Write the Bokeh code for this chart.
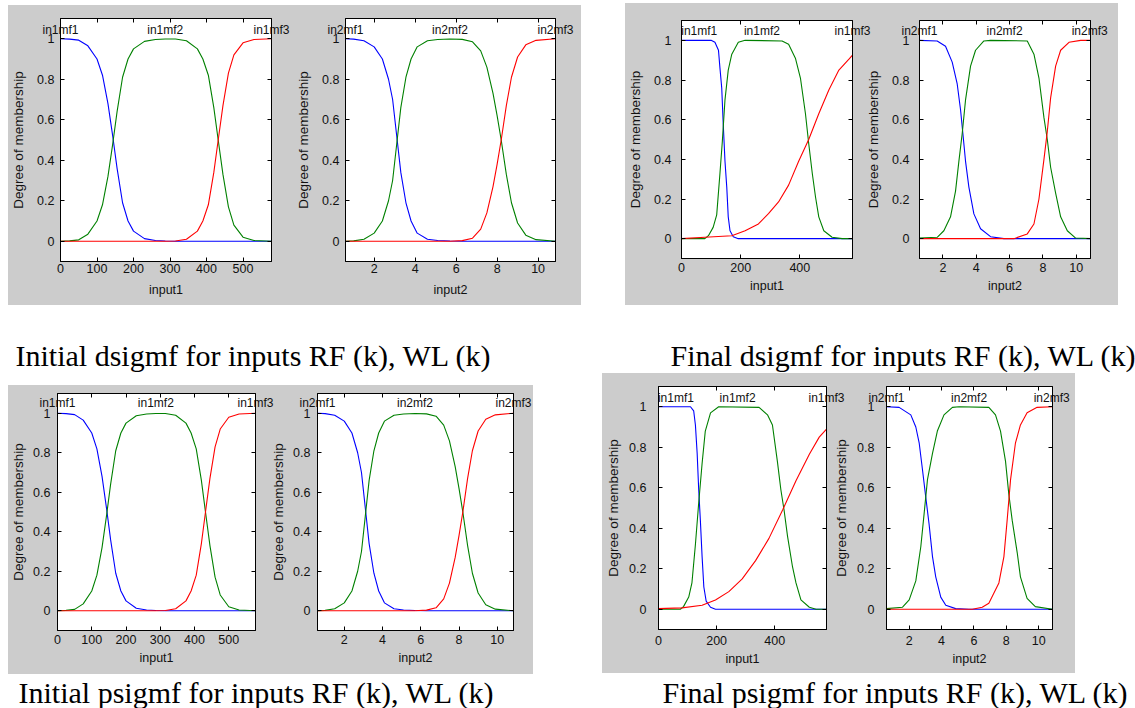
from bokeh.plotting import figure
from bokeh.models import Range1d, LinearAxis, FixedTicker, CustomJSTickFormatter, Label, Grid
from bokeh.layouts import row, column
from bokeh.embed import file_html
from bokeh.resources import INLINE

# ---------------- data ----------------
MF_NAMES_IN1 = ["in1mf1", "in1mf2", "in1mf3"]
MF_NAMES_IN2 = ["in2mf1", "in2mf2", "in2mf3"]
Y_TICKS = [0, 0.2, 0.4, 0.6, 0.8, 1]
IN1_TICKS_INIT = [0, 100, 200, 300, 400, 500]
IN1_TICKS_FINAL = [0, 200, 400]
IN2_TICKS = [2, 4, 6, 8, 10]
IN1_RANGE = [0, 578]
IN2_RANGE = [0.6, 10.85]

init_in1_x = [0, 25, 50, 75, 100, 115, 130, 143, 155, 170, 185, 200, 230, 260, 287,
              315, 345, 375, 390, 405, 420, 432, 445, 460, 475, 500, 530, 578]
init_in1_mf1 = [1.0, 0.998, 0.993, 0.965, 0.90, 0.82, 0.68, 0.52, 0.36, 0.19, 0.10, 0.05, 0.013, 0.004, 0.001,
                0, 0, 0, 0, 0, 0, 0, 0, 0, 0, 0, 0, 0]
init_in1_mf2 = [0.0, 0.002, 0.007, 0.035, 0.10, 0.18, 0.32, 0.48, 0.64, 0.81, 0.90, 0.95, 0.987, 0.996, 0.999,
                0.999, 0.99, 0.95, 0.90, 0.82, 0.66, 0.50, 0.33, 0.17, 0.08, 0.02, 0.004, 0.0]
init_in1_mf3 = [0, 0, 0, 0, 0, 0, 0, 0, 0, 0, 0, 0, 0, 0, 0,
                0.001, 0.01, 0.05, 0.10, 0.18, 0.34, 0.50, 0.67, 0.83, 0.92, 0.98, 0.996, 1.0]

init_in2_x = [0.6, 1.0, 1.5, 2.0, 2.4, 2.7, 2.9, 3.1, 3.3, 3.55, 3.8, 4.1, 4.6, 5.1, 5.7,
              6.3, 6.8, 7.2, 7.5, 7.8, 8.0, 8.2, 8.45, 8.7, 9.0, 9.4, 9.9, 10.85]
init_in2_mf1 = [1.0, 0.998, 0.99, 0.96, 0.90, 0.80, 0.70, 0.52, 0.34, 0.19, 0.10, 0.04, 0.01, 0.004, 0.001,
                0, 0, 0, 0, 0, 0, 0, 0, 0, 0, 0, 0, 0]
init_in2_mf2 = [0.0, 0.002, 0.01, 0.04, 0.10, 0.20, 0.30, 0.48, 0.66, 0.81, 0.90, 0.96, 0.99, 0.996, 0.999,
                0.997, 0.985, 0.94, 0.86, 0.73, 0.62, 0.50, 0.33, 0.19, 0.09, 0.03, 0.008, 0.0]
init_in2_mf3 = [0, 0, 0, 0, 0, 0, 0, 0, 0, 0, 0, 0, 0, 0, 0,
                0.003, 0.015, 0.06, 0.14, 0.27, 0.38, 0.50, 0.67, 0.81, 0.91, 0.97, 0.992, 1.0]

fd_in1_mf1_x = [0, 100, 113, 125, 130, 136, 141, 147, 153, 158, 164, 175, 192, 578]
fd_in1_mf1_y = [1.0, 1.0, 0.99, 0.95, 0.86, 0.76, 0.58, 0.39, 0.26, 0.11, 0.04, 0.01, 0.0, 0.0]
fd_in1_mf2_x = [0, 79, 91, 107, 119, 130, 138, 147, 158, 170, 192, 215, 340, 362, 385, 402, 419,
                430, 442, 453, 464, 481, 509, 543, 578]
fd_in1_mf2_y = [0, 0, 0.015, 0.057, 0.12, 0.33, 0.49, 0.70, 0.85, 0.93, 0.99, 1.0, 0.997, 0.98, 0.91,
                0.81, 0.63, 0.48, 0.33, 0.21, 0.11, 0.04, 0.007, 0.0, 0.0]
fd_in1_mf3_x = [0, 79, 170, 215, 260, 294, 328, 362, 396, 430, 464, 498, 532, 566, 578]
fd_in1_mf3_y = [0, 0.007, 0.015, 0.04, 0.074, 0.126, 0.185, 0.27, 0.39, 0.50, 0.63, 0.75, 0.85, 0.905, 0.925]

fd_in2_mf1_x = [0.6, 1.66, 2.16, 2.56, 2.86, 3.06, 3.2, 3.36, 3.56, 3.86, 4.26, 4.86, 5.66, 10.85]
fd_in2_mf1_y = [1, 0.997, 0.97, 0.89, 0.78, 0.65, 0.53, 0.39, 0.26, 0.125, 0.05, 0.01, 0.0, 0.0]
fd_in2_mf2_x = [0.6, 1.66, 2.06, 2.46, 2.76, 2.96, 3.16, 3.36, 3.66, 3.96, 4.46, 4.86, 7.06, 7.46,
                7.76, 8.06, 8.26, 8.46, 8.76, 9.06, 9.46, 9.96, 10.85]
fd_in2_mf2_y = [0.003, 0.007, 0.04, 0.11, 0.24, 0.39, 0.53, 0.70, 0.87, 0.95, 0.997, 1.0, 0.997, 0.93,
                0.81, 0.61, 0.50, 0.36, 0.23, 0.11, 0.04, 0.003, 0.0]
fd_in2_mf3_x = [0.6, 6.26, 7.06, 7.46, 7.76, 8.06, 8.26, 8.46, 8.76, 9.06, 9.56, 10.26, 10.85]
fd_in2_mf3_y = [0, 0, 0.024, 0.074, 0.20, 0.40, 0.54, 0.71, 0.87, 0.95, 0.99, 1.0, 1.0]

fp_in1_mf1_x = [0, 110, 121, 127, 133, 138, 144, 150, 156, 164, 179, 196, 578]
fp_in1_mf1_y = [1, 1, 0.98, 0.91, 0.77, 0.60, 0.44, 0.26, 0.11, 0.04, 0.01, 0.0, 0.0]
fp_in1_mf2_x = [0, 75, 86, 104, 115, 127, 138, 150, 161, 179, 207, 346, 375, 392, 409, 421, 432,
                444, 461, 473, 490, 519, 542, 578]
fp_in1_mf2_y = [0, 0, 0.013, 0.06, 0.13, 0.32, 0.52, 0.72, 0.88, 0.97, 1.0, 0.997, 0.96, 0.91, 0.73,
                0.59, 0.49, 0.36, 0.21, 0.13, 0.046, 0.01, 0.0, 0.0]
fp_in1_mf3_x = [0, 81, 150, 196, 242, 288, 334, 380, 427, 473, 519, 553, 578]
fp_in1_mf3_y = [0.003, 0.007, 0.02, 0.046, 0.087, 0.15, 0.24, 0.35, 0.49, 0.635, 0.765, 0.85, 0.89]

fp_in2_mf1_x = [0.6, 1.38, 2.1, 2.41, 2.62, 2.82, 3.03, 3.23, 3.44, 3.64, 3.95, 4.26, 4.87, 5.69, 10.85]
fp_in2_mf1_y = [1, 0.997, 0.96, 0.90, 0.82, 0.69, 0.55, 0.42, 0.26, 0.16, 0.06, 0.02, 0.003, 0.0, 0.0]
fp_in2_mf2_x = [0.6, 1.59, 2.0, 2.41, 2.72, 2.92, 3.13, 3.44, 3.74, 4.15, 4.67, 5.08, 6.92, 7.33,
                7.64, 7.95, 8.15, 8.36, 8.67, 8.87, 9.28, 9.79, 10.85]
fp_in2_mf2_y = [0.003, 0.01, 0.046, 0.14, 0.31, 0.47, 0.64, 0.77, 0.88, 0.96, 0.997, 1.0, 0.997, 0.96,
                0.88, 0.73, 0.57, 0.44, 0.28, 0.16, 0.054, 0.013, 0.0]
fp_in2_mf3_x = [0.6, 5.9, 6.51, 6.92, 7.54, 7.85, 8.05, 8.26, 8.56, 8.87, 9.28, 9.9, 10.85]
fp_in2_mf3_y = [0, 0, 0.01, 0.03, 0.13, 0.26, 0.44, 0.64, 0.82, 0.91, 0.97, 0.997, 1.0]

# positions of the membership-function names along x
init_in1_label_x = [0, 287, 578]
init_in2_label_x = [0.6, 5.7, 10.85]
final_in1_label_x = [60, 272, 578]
final_in2_label_x = [0.6, 5.7, 10.8]

CAPTIONS = ["Initial dsigmf for inputs RF (k), WL (k)", "Final dsigmf for inputs RF (k), WL (k)",
            "Initial psigmf for inputs RF (k), WL (k)", "Final psigmf for inputs RF (k), WL (k)"]

# ---------------- styling ----------------
GREY = "#cccccc"
COLORS = ["#0000ff", "#008000", "#ff0000"]
AX_FONT = "Liberation Sans"
CAP_FONT = "Liberation Serif"
FMT = "return String(Math.round(tick*10)/10)"
NAME_FMT = """
let best = 0, d = Infinity;
for (let i = 0; i < pos.length; i++) {
  const e = Math.abs(pos[i] - tick);
  if (e < d) { d = e; best = i; }
}
return names[best];
"""


def base_axis(ax):
    ax.axis_line_color = "black"
    ax.major_tick_line_color = "black"
    ax.major_tick_in = 4
    ax.major_tick_out = 0
    ax.minor_tick_in = 0
    ax.minor_tick_out = 0
    ax.major_label_text_color = "#111111"
    ax.major_label_text_font = AX_FONT
    ax.axis_label_text_font = AX_FONT
    ax.axis_label_text_color = "#111111"
    ax.axis_label_text_font_style = "normal"


def make_sub(xr, xticks, xlabel, curves, names, label_x, geom, sd, transparent=False):
    lb, fw, rb, tb, fh, bb = geom
    ytick_sd, ylab_sd, xtick_sd, xlab_sd, name_sd = sd
    p = figure(frame_width=fw, frame_height=fh,
               min_border_left=lb, min_border_right=rb, min_border_top=tb, min_border_bottom=bb,
               x_range=Range1d(*xr), y_range=Range1d(-0.1, 1.1),
               x_axis_location=None, y_axis_location=None,
               output_backend="svg", toolbar_location=None, tools="",
               background_fill_color="white", border_fill_color=GREY,
               border_fill_alpha=0.0 if transparent else 1.0,
               outline_line_color="black", outline_line_width=1)
    p.center = [r for r in p.center if not isinstance(r, Grid)]

    left = LinearAxis(ticker=FixedTicker(ticks=Y_TICKS), formatter=CustomJSTickFormatter(code=FMT),
                      axis_label="Degree of membership")
    base_axis(left)
    left.major_label_text_font_size = "12.5px"
    left.major_label_standoff = ytick_sd
    left.axis_label_standoff = ylab_sd
    left.axis_label_text_font_size = "13.5px"
    p.add_layout(left, "left")

    bottom = LinearAxis(ticker=FixedTicker(ticks=xticks), formatter=CustomJSTickFormatter(code=FMT),
                        axis_label=xlabel)
    base_axis(bottom)
    bottom.major_label_text_font_size = "12.5px"
    bottom.major_label_standoff = xtick_sd
    bottom.axis_label_standoff = xlab_sd
    bottom.axis_label_text_font_size = "12.5px"
    p.add_layout(bottom, "below")

    # inward tick marks on the top and right edges
    for loc, tk in (("above", xticks), ("right", Y_TICKS)):
        ax = LinearAxis(ticker=FixedTicker(ticks=tk), formatter=CustomJSTickFormatter(code="return ''"))
        base_axis(ax)
        ax.major_label_text_font_size = "0px"
        ax.major_label_standoff = 0
        p.add_layout(ax, loc)

    # membership-function names, written just under the top edge
    names_ax = LinearAxis(ticker=FixedTicker(ticks=label_x),
                          formatter=CustomJSTickFormatter(args=dict(pos=label_x, names=names), code=NAME_FMT))
    base_axis(names_ax)
    names_ax.axis_line_color = None
    names_ax.major_tick_line_color = None
    names_ax.major_label_text_font_size = "12px"
    names_ax.major_label_standoff = name_sd
    p.add_layout(names_ax, "above")

    for (cx, cy), col in zip(curves, COLORS):
        p.line(cx, cy, line_color=col, line_width=1.1)
    return p


def panel(figL, figR, overlap, margin):
    figR.margin = (0, 0, 0, -overlap)
    return row(figL, figR, spacing=0, margin=margin,
               styles={"background-color": GREY})


init_in1 = [(init_in1_x, init_in1_mf1), (init_in1_x, init_in1_mf2), (init_in1_x, init_in1_mf3)]
init_in2 = [(init_in2_x, init_in2_mf1), (init_in2_x, init_in2_mf2), (init_in2_x, init_in2_mf3)]
fd_in1 = [(fd_in1_mf1_x, fd_in1_mf1_y), (fd_in1_mf2_x, fd_in1_mf2_y), (fd_in1_mf3_x, fd_in1_mf3_y)]
fd_in2 = [(fd_in2_mf1_x, fd_in2_mf1_y), (fd_in2_mf2_x, fd_in2_mf2_y), (fd_in2_mf3_x, fd_in2_mf3_y)]
fp_in1 = [(fp_in1_mf1_x, fp_in1_mf1_y), (fp_in1_mf2_x, fp_in1_mf2_y), (fp_in1_mf3_x, fp_in1_mf3_y)]
fp_in2 = [(fp_in2_mf1_x, fp_in2_mf1_y), (fp_in2_mf2_x, fp_in2_mf2_y), (fp_in2_mf3_x, fp_in2_mf3_y)]

p1L = make_sub(IN1_RANGE, IN1_TICKS_INIT, "input1", init_in1, MF_NAMES_IN1, init_in1_label_x,
               (51, 211, 22, 13, 243, 44), (6, 8, 2, 7, -18))
p1R = make_sub(IN2_RANGE, IN2_TICKS, "input2", init_in2, MF_NAMES_IN2, init_in2_label_x,
               (45, 210, 26, 13, 243, 44), (6, 8, 2, 7, -18), transparent=True)
p2L = make_sub(IN1_RANGE, IN1_TICKS_FINAL, "input1", fd_in1, MF_NAMES_IN1, final_in1_label_x,
               (56, 171, 26, 17, 238, 47), (10, 8, 4, 4, -17))
p2R = make_sub(IN2_RANGE, IN2_TICKS, "input2", fd_in2, MF_NAMES_IN2, final_in2_label_x,
               (51, 171, 28, 17, 238, 47), (10, 8, 4, 4, -17), transparent=True)
p3L = make_sub(IN1_RANGE, IN1_TICKS_INIT, "input1", init_in1, MF_NAMES_IN1, init_in1_label_x,
               (44, 198, 20, 8, 237, 44), (7, 4, 4, 4, -16))
p3R = make_sub(IN2_RANGE, IN2_TICKS, "input2", init_in2, MF_NAMES_IN2, init_in2_label_x,
               (50, 196, 20, 8, 237, 44), (7, 4, 4, 4, -16), transparent=True)
p4L = make_sub(IN1_RANGE, IN1_TICKS_FINAL, "input1", fp_in1, MF_NAMES_IN1, final_in1_label_x,
               (56, 168, 24, 13, 243, 44), (12, 5, 6, 4, -18))
p4R = make_sub(IN2_RANGE, IN2_TICKS, "input2", fp_in2, MF_NAMES_IN2, final_in2_label_x,
               (55, 166, 23, 13, 243, 44), (12, 5, 6, 4, -18), transparent=True)

pan1 = panel(p1L, p1R, 0, (2, 0, 0, 8))
pan2 = panel(p2L, p2R, 15, (0, 0, 0, 44))
pan3 = panel(p3L, p3R, 8, (12, 0, 0, 8))
pan4 = panel(p4L, p4R, 19, (0, 0, 0, 69))


def caption_fig(h, texts, xs, base):
    c = figure(frame_width=1135, frame_height=h, min_border=0,
               x_range=Range1d(0, 1135), y_range=Range1d(0, h),
               x_axis_location=None, y_axis_location=None,
               output_backend="svg", toolbar_location=None, tools="",
               background_fill_color="white", border_fill_color="white", outline_line_color=None)
    c.center = [r for r in c.center if not isinstance(r, Grid)]
    for t, x in zip(texts, xs):
        c.add_layout(Label(x=x, y=base, x_units="screen", y_units="screen", text=t,
                           text_font=CAP_FONT, text_font_size="30px",
                           text_color="black", text_baseline="alphabetic"))
    return c


cap1 = caption_fig(68, CAPTIONS[0:2], [15, 670], 18)
cap2 = caption_fig(34, CAPTIONS[2:4], [18, 662], 16)

top = row(pan1, pan2, spacing=0)
bot = row(pan3, pan4, spacing=0)
root = column(top, cap1, bot, cap2, spacing=0, margin=(3, 0, 0, 0))

open("out.html", "w").write(file_html(root, INLINE))
